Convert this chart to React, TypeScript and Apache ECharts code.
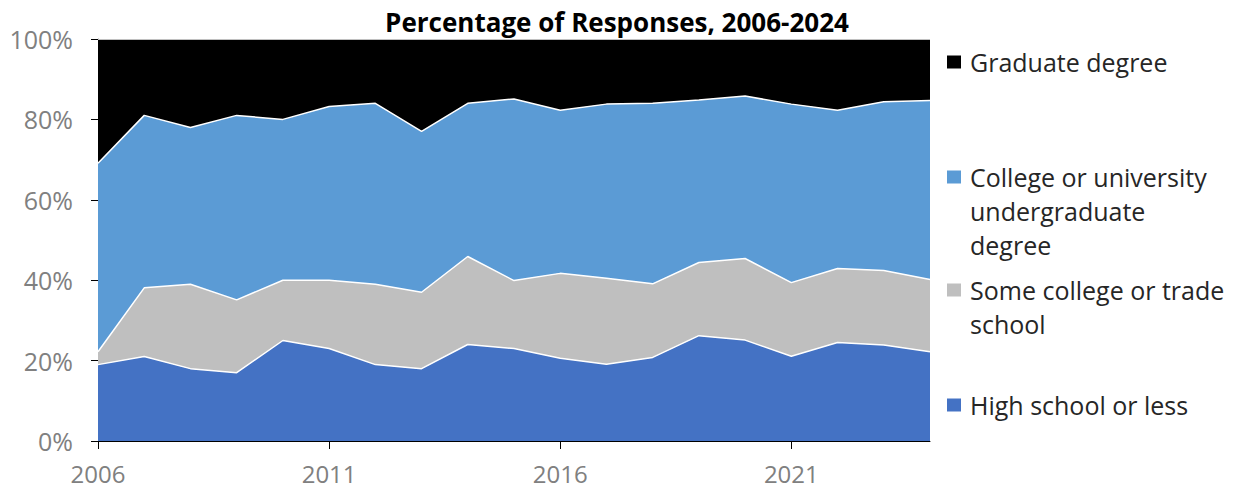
import React, { useEffect, useRef } from "react";
import * as echarts from "echarts";

const years = ["2006","2007","2008","2009","2010","2011","2012","2013","2014","2015","2016","2017","2018","2019","2020","2021","2022","2023","2024"];
const highSchool = [19, 21, 18, 17, 25, 23, 19, 18, 24, 23, 20.6, 19.1, 20.8, 26.2, 25.1, 21.1, 24.5, 23.9, 22.2];
const someCollege = [3.2, 17.1, 21, 18.1, 15, 17, 20, 19, 21.9, 16.9, 21.1, 21.4, 18.3, 18.2, 20.3, 18.3, 18.4, 18.5, 18];
const undergrad = [46.9, 42.9, 39, 45.9, 40, 43.2, 45, 40, 38.1, 45.2, 40.6, 43.3, 44.9, 40.4, 40.4, 44.4, 39.4, 42, 44.5];
const graduate = [30.9, 19, 22, 19, 20, 16.8, 16, 23, 16, 14.9, 17.7, 16.2, 16, 15.2, 14.2, 16.2, 17.7, 15.6, 15.3];

const seriesNames = ["High school or less", "Some college or trade school", "College or university undergraduate degree", "Graduate degree"];
const legendLines = [["High school or less"], ["Some college or trade", "school"], ["College or university", "undergraduate", "degree"], ["Graduate degree"]];
const colors = ["#4472C4", "#BFBFBF", "#5B9BD5", "#000000"];
const FONT = "'Open Sans'";

export default function App() {
  const ref = useRef<HTMLDivElement>(null);
  useEffect(() => {
    if (!ref.current) return;
    const chart = echarts.init(ref.current, undefined, { renderer: "svg" });
    const data = [highSchool, someCollege, undergrad, graduate];
    const legendTops = [405, 290, 177, 62];
    const graphic: any[] = [];
    seriesNames.forEach((n, i) => {
      const y = legendTops[i];
      graphic.push({ type: "rect", left: 947, top: y - 6.5, shape: { width: 14, height: 13 }, style: { fill: colors[i] } });
      graphic.push({
        type: "text", left: 970, top: y - 17,
        style: { text: legendLines[i].join("\n"), fill: "#262626", font: `25px ${FONT}`, lineHeight: 34 },
      });
    });
    chart.setOption({
      animation: false,
      title: {
        text: "Percentage of Responses, 2006-2024",
        left: 612, top: 2, textAlign: "center",
        textStyle: { fontFamily: FONT, fontWeight: "bold", fontSize: 26, color: "#000", lineHeight: 30 },
      },
      grid: { left: 98, right: 307, top: 39, bottom: 48, containLabel: false },
      xAxis: {
        type: "category", data: years, boundaryGap: false,
        axisLine: { lineStyle: { color: "#000", width: 1 } },
        axisTick: { interval: 4, length: 8, lineStyle: { color: "#000" } },
        axisLabel: { interval: 4, fontFamily: FONT, fontSize: 24, lineHeight: 24, color: "#808080", margin: 20 },
        splitLine: { show: false },
      },
      yAxis: {
        type: "value", min: 0, max: 100, interval: 20,
        axisLine: { show: true, lineStyle: { color: "#000", width: 1 } },
        axisTick: { show: true, length: 7, lineStyle: { color: "#000" } },
        axisLabel: { formatter: "{value}%", fontFamily: FONT, fontSize: 25, color: "#808080", margin: 25 },
        splitLine: { show: false },
      },
      graphic,
      series: seriesNames.map((n, i) => ({
        name: n, type: "line", stack: "total", data: data[i], symbol: "none",
        lineStyle: { color: "#fff", width: 1.5 },
        areaStyle: { color: colors[i], opacity: 1 },
        itemStyle: { color: colors[i] },
        z: 2,
      })),
    });
    return () => chart.dispose();
  }, []);
  return <div ref={ref} style={{ width: 1237, height: 489, position: "absolute", left: 0, top: 0, background: "#fff" }} />;
}
